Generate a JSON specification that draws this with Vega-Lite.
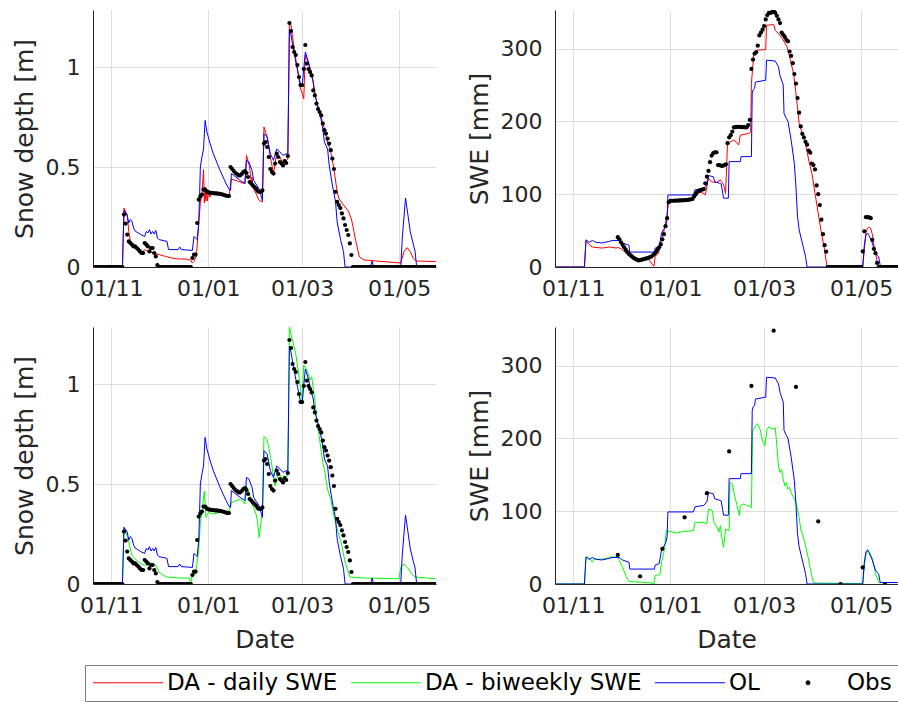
{
"$schema":"https://vega.github.io/schema/vega-lite/v6.json",
"background":"white",
"padding":{"left":12,"top":10,"right":0,"bottom":0},
"config":{
 "font":"DejaVu Sans",
 "view":{"stroke":null},
 "axis":{"labelFont":"DejaVu Sans","labelFontSize":22,"labelColor":"#262626","titleFont":"DejaVu Sans","titleFontSize":25,"titleFontWeight":"normal","titleColor":"#262626","domainColor":"#262626","domainWidth":1,"gridColor":"#dedede","gridWidth":1,"ticks":false,"tickSize":0,"labelFlush":false},
 "axisX":{"labelPadding":11,"titlePadding":11},
 "axisY":{"labelPadding":13,"titlePadding":8}
},
"datasets":{
"depth_obs":[
{"date":"2017-10-21","value":0},{"date":"2017-10-22","value":0},{"date":"2017-10-23","value":0},{"date":"2017-10-24","value":0},{"date":"2017-10-25","value":0},{"date":"2017-10-26","value":0},{"date":"2017-10-27","value":0},{"date":"2017-10-28","value":0},{"date":"2017-10-29","value":0},{"date":"2017-10-30","value":0},{"date":"2017-10-31","value":0},{"date":"2017-11-01","value":0},{"date":"2017-11-02","value":0},{"date":"2017-11-03","value":0},{"date":"2017-11-04","value":0},{"date":"2017-11-05","value":0},{"date":"2017-11-06","value":0},{"date":"2017-11-07","value":0},{"date":"2017-11-08","value":0},
{"date":"2017-11-09","value":0.262},{"date":"2017-11-10","value":0.217},{"date":"2017-11-11","value":0.162},{"date":"2017-11-12","value":0.128},{"date":"2017-11-13","value":0.12},{"date":"2017-11-14","value":0.112},{"date":"2017-11-15","value":0.103},{"date":"2017-11-16","value":0.103},{"date":"2017-11-17","value":0.095},{"date":"2017-11-18","value":0.087},{"date":"2017-11-19","value":0.078},{"date":"2017-11-20","value":0.07},{"date":"2017-11-21","value":0.07},{"date":"2017-11-22","value":0.12},{"date":"2017-11-23","value":0.112},{"date":"2017-11-24","value":0.103},{"date":"2017-11-25","value":0.078},{"date":"2017-11-26","value":0.095},{"date":"2017-11-27","value":0.095},{"date":"2017-11-28","value":0.07},{"date":"2017-11-29","value":0.053},{"date":"2017-11-30","value":0.01},
{"date":"2017-12-01","value":0},{"date":"2017-12-02","value":0},{"date":"2017-12-03","value":0},{"date":"2017-12-04","value":0},{"date":"2017-12-05","value":0},{"date":"2017-12-06","value":0},{"date":"2017-12-07","value":0},{"date":"2017-12-08","value":0},{"date":"2017-12-09","value":0},{"date":"2017-12-10","value":0},{"date":"2017-12-11","value":0},{"date":"2017-12-12","value":0},{"date":"2017-12-13","value":0},{"date":"2017-12-14","value":0},{"date":"2017-12-15","value":0},{"date":"2017-12-16","value":0},{"date":"2017-12-17","value":0},{"date":"2017-12-18","value":0},{"date":"2017-12-19","value":0},{"date":"2017-12-20","value":0},{"date":"2017-12-21","value":0},
{"date":"2017-12-22","value":0.045},{"date":"2017-12-23","value":0.062},{"date":"2017-12-24","value":0.062},{"date":"2017-12-25","value":0.22},{"date":"2017-12-26","value":0.337},{"date":"2017-12-27","value":0.353},{"date":"2017-12-28","value":0.362},{"date":"2017-12-29","value":0.387},{"date":"2017-12-30","value":0.387},{"date":"2017-12-31","value":0.378},
{"date":"2018-01-01","value":0.373},{"date":"2018-01-02","value":0.372},{"date":"2018-01-03","value":0.37},{"date":"2018-01-04","value":0.37},{"date":"2018-01-05","value":0.368},{"date":"2018-01-06","value":0.368},{"date":"2018-01-07","value":0.367},{"date":"2018-01-08","value":0.366},{"date":"2018-01-09","value":0.365},{"date":"2018-01-10","value":0.362},{"date":"2018-01-11","value":0.36},{"date":"2018-01-12","value":0.357},{"date":"2018-01-13","value":0.355},{"date":"2018-01-14","value":0.355},
{"date":"2018-01-15","value":0.5},{"date":"2018-01-16","value":0.49},{"date":"2018-01-17","value":0.48},{"date":"2018-01-18","value":0.47},{"date":"2018-01-19","value":0.465},{"date":"2018-01-20","value":0.458},{"date":"2018-01-21","value":0.458},{"date":"2018-01-22","value":0.465},{"date":"2018-01-23","value":0.475},{"date":"2018-01-24","value":0.48},{"date":"2018-01-25","value":0.47},{"date":"2018-01-26","value":0.45},{"date":"2018-01-27","value":0.425},{"date":"2018-01-28","value":0.417},{"date":"2018-01-29","value":0.408},{"date":"2018-01-30","value":0.4},{"date":"2018-01-31","value":0.392},
{"date":"2018-02-01","value":0.38},{"date":"2018-02-02","value":0.375},{"date":"2018-02-03","value":0.375},{"date":"2018-02-04","value":0.383},{"date":"2018-02-05","value":0.617},{"date":"2018-02-06","value":0.625},{"date":"2018-02-07","value":0.6},{"date":"2018-02-08","value":0.55},{"date":"2018-02-09","value":0.49},{"date":"2018-02-10","value":0.475},{"date":"2018-02-11","value":0.467},{"date":"2018-02-12","value":0.517},{"date":"2018-02-13","value":0.567},{"date":"2018-02-14","value":0.55},{"date":"2018-02-15","value":0.525},{"date":"2018-02-16","value":0.517},{"date":"2018-02-17","value":0.508},{"date":"2018-02-18","value":0.53},{"date":"2018-02-19","value":0.52},{"date":"2018-02-20","value":0.555},
{"date":"2018-02-21","value":1.22},{"date":"2018-02-22","value":1.18},{"date":"2018-02-23","value":1.1},{"date":"2018-02-24","value":1.075},{"date":"2018-02-25","value":1.06},{"date":"2018-02-26","value":1.01},{"date":"2018-02-27","value":0.95},{"date":"2018-02-28","value":0.91},
{"date":"2018-03-01","value":0.91},{"date":"2018-03-02","value":0.99},{"date":"2018-03-03","value":1.11},{"date":"2018-03-04","value":1.017},{"date":"2018-03-05","value":0.99},{"date":"2018-03-06","value":0.975},{"date":"2018-03-07","value":0.958},{"date":"2018-03-08","value":0.883},{"date":"2018-03-09","value":0.858},{"date":"2018-03-10","value":0.817},{"date":"2018-03-11","value":0.79},{"date":"2018-03-12","value":0.775},{"date":"2018-03-13","value":0.758},{"date":"2018-03-14","value":0.717},{"date":"2018-03-15","value":0.684},{"date":"2018-03-16","value":0.667},{"date":"2018-03-17","value":0.642},{"date":"2018-03-18","value":0.617},{"date":"2018-03-19","value":0.584},{"date":"2018-03-20","value":0.542},{"date":"2018-03-21","value":0.49},{"date":"2018-03-22","value":0.376},{"date":"2018-03-23","value":0.326},{"date":"2018-03-24","value":0.31},{"date":"2018-03-25","value":0.295},{"date":"2018-03-26","value":0.268},{"date":"2018-03-27","value":0.243},{"date":"2018-03-28","value":0.21},{"date":"2018-03-29","value":0.185},{"date":"2018-03-30","value":0.16},{"date":"2018-03-31","value":0.118},{"date":"2018-04-01","value":0.06},
{"date":"2018-04-02","value":0},{"date":"2018-04-03","value":0},{"date":"2018-04-04","value":0},{"date":"2018-04-05","value":0},{"date":"2018-04-06","value":0},{"date":"2018-04-07","value":0},{"date":"2018-04-08","value":0},{"date":"2018-04-09","value":0},{"date":"2018-04-10","value":0},{"date":"2018-04-11","value":0},{"date":"2018-04-12","value":0},{"date":"2018-04-13","value":0},{"date":"2018-04-14","value":0},{"date":"2018-04-15","value":0},{"date":"2018-04-16","value":0},{"date":"2018-04-17","value":0},{"date":"2018-04-18","value":0},{"date":"2018-04-19","value":0},{"date":"2018-04-20","value":0},{"date":"2018-04-21","value":0},{"date":"2018-04-22","value":0},{"date":"2018-04-23","value":0},{"date":"2018-04-24","value":0},{"date":"2018-04-25","value":0},{"date":"2018-04-26","value":0},{"date":"2018-04-27","value":0},{"date":"2018-04-28","value":0},{"date":"2018-04-29","value":0},{"date":"2018-04-30","value":0},{"date":"2018-05-01","value":0},{"date":"2018-05-02","value":0},{"date":"2018-05-03","value":0},{"date":"2018-05-04","value":0},{"date":"2018-05-05","value":0},{"date":"2018-05-06","value":0},{"date":"2018-05-07","value":0},{"date":"2018-05-08","value":0},{"date":"2018-05-09","value":0},{"date":"2018-05-10","value":0},{"date":"2018-05-11","value":0},{"date":"2018-05-12","value":0},{"date":"2018-05-13","value":0},{"date":"2018-05-14","value":0},{"date":"2018-05-15","value":0},{"date":"2018-05-16","value":0},{"date":"2018-05-17","value":0},{"date":"2018-05-18","value":0},{"date":"2018-05-19","value":0},{"date":"2018-05-20","value":0},{"date":"2018-05-21","value":0},{"date":"2018-05-22","value":0},{"date":"2018-05-23","value":0},{"date":"2018-05-24","value":0}
],
"depth_ol":[
{"date":"2017-10-20","value":0},{"date":"2017-11-08","value":0},{"date":"2017-11-09","value":0.283},{"date":"2017-11-11","value":0.26},{"date":"2017-11-12","value":0.22},{"date":"2017-11-13","value":0.237},{"date":"2017-11-14","value":0.228},{"date":"2017-11-15","value":0.195},{"date":"2017-11-16","value":0.18},{"date":"2017-11-18","value":0.17},{"date":"2017-11-20","value":0.16},{"date":"2017-11-22","value":0.153},{"date":"2017-11-23","value":0.178},{"date":"2017-11-24","value":0.17},{"date":"2017-11-25","value":0.187},{"date":"2017-11-26","value":0.165},{"date":"2017-11-27","value":0.178},{"date":"2017-11-28","value":0.165},{"date":"2017-11-29","value":0.183},{"date":"2017-11-30","value":0.145},{"date":"2017-12-01","value":0.137},{"date":"2017-12-06","value":0.128},{"date":"2017-12-07","value":0.087},{"date":"2017-12-13","value":0.087},{"date":"2017-12-14","value":0.1},{"date":"2017-12-15","value":0.087},{"date":"2017-12-22","value":0.083},{"date":"2017-12-23","value":0.153},{"date":"2017-12-24","value":0.145},{"date":"2017-12-25","value":0.137},{"date":"2017-12-26","value":0.22},{"date":"2017-12-26T12:00:00Z","value":0.353},{"date":"2017-12-27","value":0.5},{"date":"2017-12-28","value":0.55},{"date":"2017-12-29","value":0.59},{"date":"2017-12-30","value":0.733},{"date":"2017-12-31","value":0.68},{"date":"2018-01-02","value":0.62},{"date":"2018-01-04","value":0.57},{"date":"2018-01-06","value":0.53},{"date":"2018-01-08","value":0.49},{"date":"2018-01-10","value":0.455},{"date":"2018-01-12","value":0.42},{"date":"2018-01-14","value":0.39},{"date":"2018-01-15","value":0.383},{"date":"2018-01-15T12:00:00Z","value":0.467},{"date":"2018-01-17","value":0.458},{"date":"2018-01-21","value":0.433},{"date":"2018-01-24","value":0.417},{"date":"2018-01-25","value":0.533},{"date":"2018-01-26T12:00:00Z","value":0.525},{"date":"2018-01-28T12:00:00Z","value":0.483},{"date":"2018-01-29T12:00:00Z","value":0.433},{"date":"2018-02-02","value":0.39},{"date":"2018-02-04","value":0.333},{"date":"2018-02-05","value":0.667},{"date":"2018-02-07","value":0.65},{"date":"2018-02-09","value":0.567},{"date":"2018-02-11","value":0.533},{"date":"2018-02-13","value":0.59},{"date":"2018-02-15","value":0.575},{"date":"2018-02-17","value":0.558},{"date":"2018-02-19","value":0.567},{"date":"2018-02-20","value":0.56},{"date":"2018-02-21","value":1.19},{"date":"2018-02-22","value":1.16},{"date":"2018-02-23","value":1.11},{"date":"2018-02-24","value":1.07},{"date":"2018-02-25","value":1.025},{"date":"2018-02-26","value":0.99},{"date":"2018-02-27","value":0.95},{"date":"2018-02-28","value":0.91},{"date":"2018-03-01","value":0.9},{"date":"2018-03-02","value":0.99},{"date":"2018-03-03","value":1.075},{"date":"2018-03-05","value":1.025},{"date":"2018-03-06","value":0.983},{"date":"2018-03-08","value":0.925},{"date":"2018-03-09","value":0.86},{"date":"2018-03-12","value":0.775},{"date":"2018-03-14","value":0.69},{"date":"2018-03-15","value":0.625},{"date":"2018-03-17","value":0.59},{"date":"2018-03-18","value":0.51},{"date":"2018-03-20","value":0.41},{"date":"2018-03-22","value":0.326},{"date":"2018-03-23","value":0.226},{"date":"2018-03-25","value":0.143},{"date":"2018-03-27","value":0.077},{"date":"2018-03-28","value":0},{"date":"2018-04-13","value":0},{"date":"2018-04-14","value":0.03},{"date":"2018-04-15","value":0},{"date":"2018-05-02","value":0},{"date":"2018-05-03","value":0.15},{"date":"2018-05-05","value":0.345},{"date":"2018-05-06","value":0.29},{"date":"2018-05-08","value":0.176},{"date":"2018-05-10","value":0.11},{"date":"2018-05-11","value":0.08},{"date":"2018-05-12","value":0},{"date":"2018-05-24","value":0}
],
"depth_daily":[
{"date":"2017-10-20","value":0},{"date":"2017-11-08","value":0},{"date":"2017-11-09","value":0.295},{"date":"2017-11-11","value":0.26},{"date":"2017-11-12","value":0.178},{"date":"2017-11-13","value":0.128},{"date":"2017-11-14","value":0.103},{"date":"2017-11-16","value":0.095},{"date":"2017-11-18","value":0.078},{"date":"2017-11-20","value":0.067},{"date":"2017-11-22","value":0.087},{"date":"2017-11-24","value":0.078},{"date":"2017-11-26","value":0.075},{"date":"2017-11-28","value":0.07},{"date":"2017-12-01","value":0.062},{"date":"2017-12-05","value":0.053},{"date":"2017-12-09","value":0.045},{"date":"2017-12-13","value":0.04},{"date":"2017-12-18","value":0.04},{"date":"2017-12-21","value":0.033},{"date":"2017-12-22","value":0.02},{"date":"2017-12-23","value":0.028},{"date":"2017-12-24T12:00:00Z","value":0.053},{"date":"2017-12-26","value":0.22},{"date":"2017-12-27","value":0.32},{"date":"2017-12-28","value":0.37},{"date":"2017-12-29","value":0.487},{"date":"2017-12-29T12:00:00Z","value":0.32},{"date":"2017-12-30","value":0.4},{"date":"2017-12-30T12:00:00Z","value":0.33},{"date":"2017-12-31","value":0.38},{"date":"2017-12-31T12:00:00Z","value":0.33},{"date":"2018-01-01","value":0.37},{"date":"2018-01-02","value":0.35},{"date":"2018-01-03","value":0.37},{"date":"2018-01-07","value":0.362},{"date":"2018-01-11","value":0.362},{"date":"2018-01-14","value":0.353},{"date":"2018-01-15T12:00:00Z","value":0.44},{"date":"2018-01-21","value":0.425},{"date":"2018-01-24","value":0.417},{"date":"2018-01-25","value":0.558},{"date":"2018-01-27","value":0.5},{"date":"2018-01-28","value":0.42},{"date":"2018-01-28T12:00:00Z","value":0.45},{"date":"2018-01-29","value":0.4},{"date":"2018-01-31","value":0.367},{"date":"2018-02-02","value":0.333},{"date":"2018-02-04","value":0.325},{"date":"2018-02-05","value":0.7},{"date":"2018-02-07","value":0.65},{"date":"2018-02-09","value":0.55},{"date":"2018-02-11","value":0.467},{"date":"2018-02-13","value":0.567},{"date":"2018-02-15","value":0.55},{"date":"2018-02-17","value":0.517},{"date":"2018-02-19","value":0.533},{"date":"2018-02-20","value":0.54},{"date":"2018-02-21","value":1.225},{"date":"2018-02-22","value":1.21},{"date":"2018-02-24","value":1.09},{"date":"2018-02-26","value":0.99},{"date":"2018-02-28","value":0.89},{"date":"2018-03-01","value":0.87},{"date":"2018-03-02","value":0.84},{"date":"2018-03-03","value":1.06},{"date":"2018-03-05","value":1.02},{"date":"2018-03-07","value":0.97},{"date":"2018-03-09","value":0.87},{"date":"2018-03-11","value":0.79},{"date":"2018-03-14","value":0.725},{"date":"2018-03-17","value":0.625},{"date":"2018-03-19","value":0.575},{"date":"2018-03-21","value":0.49},{"date":"2018-03-23","value":0.376},{"date":"2018-03-24","value":0.343},{"date":"2018-03-27","value":0.31},{"date":"2018-03-30","value":0.28},{"date":"2018-04-01","value":0.24},{"date":"2018-04-02","value":0.2},{"date":"2018-04-04","value":0.12},{"date":"2018-04-06","value":0.05},{"date":"2018-04-09","value":0.035},{"date":"2018-05-02","value":0.02},{"date":"2018-05-04","value":0.076},{"date":"2018-05-06","value":0.097},{"date":"2018-05-08","value":0.076},{"date":"2018-05-10","value":0.043},{"date":"2018-05-12","value":0.03},{"date":"2018-05-24","value":0.027}
],
"depth_biweekly":[
{"date":"2017-10-20","value":0},{"date":"2017-11-08","value":0},{"date":"2017-11-09","value":0.283},{"date":"2017-11-11","value":0.24},{"date":"2017-11-12","value":0.21},{"date":"2017-11-14","value":0.142},{"date":"2017-11-17","value":0.118},{"date":"2017-11-20","value":0.1},{"date":"2017-11-23","value":0.093},{"date":"2017-11-24","value":0.11},{"date":"2017-11-27","value":0.1},{"date":"2017-11-29","value":0.093},{"date":"2017-12-01","value":0.06},{"date":"2017-12-04","value":0.043},{"date":"2017-12-06","value":0.035},{"date":"2017-12-14","value":0.03},{"date":"2017-12-20","value":0.03},{"date":"2017-12-21","value":0.002},{"date":"2017-12-22","value":0.043},{"date":"2017-12-24","value":0.048},{"date":"2017-12-26","value":0.175},{"date":"2017-12-27","value":0.31},{"date":"2017-12-28","value":0.357},{"date":"2017-12-29T12:00:00Z","value":0.465},{"date":"2017-12-30T12:00:00Z","value":0.333},{"date":"2018-01-01","value":0.357},{"date":"2018-01-04","value":0.35},{"date":"2018-01-08","value":0.357},{"date":"2018-01-14","value":0.366},{"date":"2018-01-15T12:00:00Z","value":0.407},{"date":"2018-01-21","value":0.424},{"date":"2018-01-24","value":0.4},{"date":"2018-01-25","value":0.49},{"date":"2018-01-27","value":0.449},{"date":"2018-01-29","value":0.39},{"date":"2018-01-31","value":0.35},{"date":"2018-02-01","value":0.308},{"date":"2018-02-02","value":0.233},{"date":"2018-02-03","value":0.3},{"date":"2018-02-04","value":0.357},{"date":"2018-02-05","value":0.738},{"date":"2018-02-07","value":0.722},{"date":"2018-02-09","value":0.64},{"date":"2018-02-11","value":0.54},{"date":"2018-02-12","value":0.49},{"date":"2018-02-14","value":0.556},{"date":"2018-02-15","value":0.545},{"date":"2018-02-17","value":0.523},{"date":"2018-02-19","value":0.54},{"date":"2018-02-20","value":0.54},{"date":"2018-02-21","value":1.285},{"date":"2018-02-22","value":1.25},{"date":"2018-02-25","value":1.15},{"date":"2018-02-27","value":1.036},{"date":"2018-03-01","value":0.92},{"date":"2018-03-02","value":1.094},{"date":"2018-03-04","value":1.07},{"date":"2018-03-06","value":1.02},{"date":"2018-03-07","value":1.036},{"date":"2018-03-09","value":0.92},{"date":"2018-03-10","value":0.838},{"date":"2018-03-12","value":0.722},{"date":"2018-03-14","value":0.606},{"date":"2018-03-15","value":0.573},{"date":"2018-03-17","value":0.473},{"date":"2018-03-19","value":0.424},{"date":"2018-03-21","value":0.341},{"date":"2018-03-23","value":0.275},{"date":"2018-03-26","value":0.192},{"date":"2018-03-28","value":0.109},{"date":"2018-03-30","value":0.06},{"date":"2018-03-31","value":0.035},{"date":"2018-04-10","value":0.03},{"date":"2018-05-01","value":0.026},{"date":"2018-05-02","value":0.084},{"date":"2018-05-04","value":0.1},{"date":"2018-05-06","value":0.084},{"date":"2018-05-09","value":0.05},{"date":"2018-05-11","value":0.035},{"date":"2018-05-24","value":0.026}
],
"swe_obs_daily":[
{"date":"2017-11-29","value":41},{"date":"2017-11-30","value":38},{"date":"2017-12-01","value":34},{"date":"2017-12-02","value":30.5},{"date":"2017-12-03","value":27},{"date":"2017-12-04","value":23.5},{"date":"2017-12-05","value":20.5},{"date":"2017-12-06","value":18},{"date":"2017-12-07","value":16},{"date":"2017-12-08","value":14.2},{"date":"2017-12-09","value":12.5},{"date":"2017-12-10","value":11},{"date":"2017-12-11","value":10},{"date":"2017-12-12","value":9},{"date":"2017-12-13","value":9.5},{"date":"2017-12-14","value":10},{"date":"2017-12-15","value":10.5},{"date":"2017-12-16","value":11},{"date":"2017-12-17","value":11.8},{"date":"2017-12-18","value":12.6},{"date":"2017-12-19","value":13.3},{"date":"2017-12-20","value":14.3},{"date":"2017-12-21","value":16},{"date":"2017-12-22","value":18},{"date":"2017-12-23","value":20.5},{"date":"2017-12-24","value":24},{"date":"2017-12-25","value":27},{"date":"2017-12-26","value":31},{"date":"2017-12-27","value":38},{"date":"2017-12-28","value":45},{"date":"2017-12-29","value":56},{"date":"2017-12-30","value":67},{"date":"2017-12-31","value":89},
{"date":"2018-01-01","value":91},{"date":"2018-01-02","value":91},{"date":"2018-01-03","value":91},{"date":"2018-01-04","value":91.2},{"date":"2018-01-05","value":91.3},{"date":"2018-01-06","value":91.3},{"date":"2018-01-07","value":91.5},{"date":"2018-01-08","value":91.5},{"date":"2018-01-09","value":91.6},{"date":"2018-01-10","value":91.8},{"date":"2018-01-11","value":92},{"date":"2018-01-12","value":92.3},{"date":"2018-01-13","value":92.6},{"date":"2018-01-14","value":93},{"date":"2018-01-15","value":93.5},{"date":"2018-01-16","value":97},{"date":"2018-01-17","value":100},{"date":"2018-01-18","value":103},{"date":"2018-01-19","value":104.6},{"date":"2018-01-20","value":105.5},{"date":"2018-01-21","value":106.3},{"date":"2018-01-22","value":107},{"date":"2018-01-23","value":115},{"date":"2018-01-24","value":124},{"date":"2018-01-25","value":132},{"date":"2018-01-26","value":144},{"date":"2018-01-27","value":153},{"date":"2018-01-28","value":156.5},{"date":"2018-01-29","value":157.5},{"date":"2018-01-30","value":157.5},{"date":"2018-01-31","value":140},
{"date":"2018-02-01","value":140},{"date":"2018-02-02","value":139},{"date":"2018-02-03","value":139},{"date":"2018-02-04","value":140},{"date":"2018-02-05","value":141},{"date":"2018-02-06","value":170},{"date":"2018-02-07","value":178},{"date":"2018-02-08","value":181},{"date":"2018-02-09","value":186},{"date":"2018-02-10","value":191.8},{"date":"2018-02-11","value":192},{"date":"2018-02-12","value":192.5},{"date":"2018-02-13","value":192.5},{"date":"2018-02-14","value":192.5},{"date":"2018-02-15","value":192},{"date":"2018-02-16","value":192},{"date":"2018-02-17","value":191.8},{"date":"2018-02-18","value":191.8},{"date":"2018-02-19","value":195},{"date":"2018-02-20","value":202},{"date":"2018-02-21","value":272},{"date":"2018-02-22","value":285},{"date":"2018-02-23","value":293},{"date":"2018-02-24","value":295},{"date":"2018-02-25","value":304},{"date":"2018-02-26","value":318},{"date":"2018-02-27","value":322},{"date":"2018-02-28","value":326},
{"date":"2018-03-01","value":331},{"date":"2018-03-02","value":340},{"date":"2018-03-03","value":346},{"date":"2018-03-04","value":349},{"date":"2018-03-05","value":349},{"date":"2018-03-06","value":350},{"date":"2018-03-07","value":352},{"date":"2018-03-08","value":349},{"date":"2018-03-09","value":345},{"date":"2018-03-10","value":340},{"date":"2018-03-11","value":335},{"date":"2018-03-12","value":322},{"date":"2018-03-13","value":319},{"date":"2018-03-14","value":316},{"date":"2018-03-15","value":312},{"date":"2018-03-16","value":310},{"date":"2018-03-17","value":296},{"date":"2018-03-18","value":290},{"date":"2018-03-19","value":280},{"date":"2018-03-20","value":265},{"date":"2018-03-21","value":252},{"date":"2018-03-22","value":232},{"date":"2018-03-23","value":212},{"date":"2018-03-24","value":193},{"date":"2018-03-25","value":183},{"date":"2018-03-26","value":178},{"date":"2018-03-27","value":172},{"date":"2018-03-28","value":168},{"date":"2018-03-29","value":160},{"date":"2018-03-30","value":157},{"date":"2018-03-31","value":142},{"date":"2018-04-01","value":140},{"date":"2018-04-02","value":134},{"date":"2018-04-03","value":112},{"date":"2018-04-04","value":100},{"date":"2018-04-05","value":85},{"date":"2018-04-06","value":65},{"date":"2018-04-07","value":45},{"date":"2018-04-08","value":30},{"date":"2018-04-09","value":21},
{"date":"2018-04-10","value":0},{"date":"2018-04-11","value":0},{"date":"2018-04-12","value":0},{"date":"2018-04-13","value":0},{"date":"2018-04-14","value":0},{"date":"2018-04-15","value":0},{"date":"2018-04-16","value":0},{"date":"2018-04-17","value":0},{"date":"2018-04-18","value":0},{"date":"2018-04-19","value":0},{"date":"2018-04-20","value":0},{"date":"2018-04-21","value":0},{"date":"2018-04-22","value":0},{"date":"2018-04-23","value":0},{"date":"2018-04-24","value":0},{"date":"2018-04-25","value":0},{"date":"2018-04-26","value":0},{"date":"2018-04-27","value":0},{"date":"2018-04-28","value":0},{"date":"2018-04-29","value":0},{"date":"2018-04-30","value":0},{"date":"2018-05-01","value":0},
{"date":"2018-05-02","value":21.5},{"date":"2018-05-03","value":49},{"date":"2018-05-04","value":68.5},{"date":"2018-05-05","value":68.5},{"date":"2018-05-06","value":68},{"date":"2018-05-07","value":67},{"date":"2018-05-08","value":37.4},{"date":"2018-05-09","value":25},{"date":"2018-05-10","value":19},{"date":"2018-05-11","value":5.5},
{"date":"2018-05-12","value":0},{"date":"2018-05-13","value":0},{"date":"2018-05-14","value":0},{"date":"2018-05-15","value":0},{"date":"2018-05-16","value":0},{"date":"2018-05-17","value":0},{"date":"2018-05-18","value":0},{"date":"2018-05-19","value":0},{"date":"2018-05-20","value":0},{"date":"2018-05-21","value":0},{"date":"2018-05-22","value":0},{"date":"2018-05-23","value":0},{"date":"2018-05-24","value":0}
],
"swe_obs_biweekly":[
{"date":"2017-11-29","value":40},{"date":"2017-12-13","value":10.5},{"date":"2017-12-27","value":48.3},{"date":"2018-01-10","value":91.6},{"date":"2018-01-24","value":124.8},{"date":"2018-02-07","value":182},{"date":"2018-02-21","value":272},{"date":"2018-03-07","value":348},{"date":"2018-03-21","value":270.6},{"date":"2018-04-04","value":86},{"date":"2018-04-18","value":0},{"date":"2018-05-02","value":22.8},{"date":"2018-05-16","value":0}
],
"swe_ol":[
{"date":"2017-10-20","value":0},{"date":"2017-11-08","value":0},{"date":"2017-11-09","value":37.4},{"date":"2017-11-11","value":33.8},{"date":"2017-11-13","value":36.5},{"date":"2017-11-15","value":34},{"date":"2017-11-19","value":33},{"date":"2017-11-23","value":35},{"date":"2017-11-26","value":36.5},{"date":"2017-11-30","value":36.5},{"date":"2017-12-02","value":33},{"date":"2017-12-05","value":30.6},{"date":"2017-12-06","value":30},{"date":"2017-12-06T12:00:00Z","value":20.5},{"date":"2017-12-22","value":20.5},{"date":"2017-12-22T12:00:00Z","value":26},{"date":"2017-12-25","value":28},{"date":"2017-12-26T12:00:00Z","value":46.6},{"date":"2017-12-29","value":55.7},{"date":"2017-12-30","value":65},{"date":"2017-12-30T12:00:00Z","value":99},{"date":"2018-01-15T12:00:00Z","value":99},{"date":"2018-01-16T12:00:00Z","value":106},{"date":"2018-01-22","value":108},{"date":"2018-01-24","value":112.8},{"date":"2018-01-25","value":125.6},{"date":"2018-01-28","value":124},{"date":"2018-01-29","value":117},{"date":"2018-02-01","value":115},{"date":"2018-02-02","value":114},{"date":"2018-02-03","value":101},{"date":"2018-02-03T12:00:00Z","value":94.5},{"date":"2018-02-06T12:00:00Z","value":94.5},{"date":"2018-02-07","value":144.7},{"date":"2018-02-14","value":144.7},{"date":"2018-02-14T12:00:00Z","value":151.6},{"date":"2018-02-21","value":151.6},{"date":"2018-02-21T12:00:00Z","value":238},{"date":"2018-02-22","value":243},{"date":"2018-02-23","value":245},{"date":"2018-02-23T12:00:00Z","value":254},{"date":"2018-03-02","value":256.6},{"date":"2018-03-02T12:00:00Z","value":284},{"date":"2018-03-08","value":283},{"date":"2018-03-10","value":275},{"date":"2018-03-11","value":263},{"date":"2018-03-13","value":250},{"date":"2018-03-13T12:00:00Z","value":211},{"date":"2018-03-15","value":204},{"date":"2018-03-16","value":200},{"date":"2018-03-18","value":174},{"date":"2018-03-20","value":142},{"date":"2018-03-21","value":110},{"date":"2018-03-22","value":69},{"date":"2018-03-23","value":51},{"date":"2018-03-25","value":33},{"date":"2018-03-27","value":14.6},{"date":"2018-03-28","value":0},{"date":"2018-05-02","value":0},{"date":"2018-05-03","value":30},{"date":"2018-05-04","value":44},{"date":"2018-05-05","value":46.6},{"date":"2018-05-06","value":43},{"date":"2018-05-08","value":33},{"date":"2018-05-10","value":19},{"date":"2018-05-11","value":16},{"date":"2018-05-12","value":14},{"date":"2018-05-13","value":2},{"date":"2018-05-24","value":2}
],
"swe_daily":[
{"date":"2017-10-20","value":0},{"date":"2017-11-08","value":0},{"date":"2017-11-09","value":36.5},{"date":"2017-11-11","value":30.6},{"date":"2017-11-13","value":27.4},{"date":"2017-11-19","value":26},{"date":"2017-11-24","value":27.4},{"date":"2017-11-28","value":26},{"date":"2017-11-29","value":27},{"date":"2017-12-01","value":25},{"date":"2017-12-03","value":21.5},{"date":"2017-12-06","value":15},{"date":"2017-12-10","value":10},{"date":"2017-12-15","value":10},{"date":"2017-12-18","value":12.3},{"date":"2017-12-20","value":5.5},{"date":"2017-12-21T18:00:00Z","value":1},{"date":"2017-12-22T12:00:00Z","value":14.6},{"date":"2017-12-24T12:00:00Z","value":19},{"date":"2017-12-25T12:00:00Z","value":28},{"date":"2017-12-27T18:00:00Z","value":46.6},{"date":"2017-12-29T18:00:00Z","value":69},{"date":"2017-12-31","value":90},{"date":"2018-01-09","value":90},{"date":"2018-01-15T12:00:00Z","value":92},{"date":"2018-01-16T12:00:00Z","value":103.6},{"date":"2018-01-21","value":102},{"date":"2018-01-23","value":99},{"date":"2018-01-25","value":122},{"date":"2018-01-27","value":117},{"date":"2018-01-30","value":116},{"date":"2018-02-01T12:00:00Z","value":119.6},{"date":"2018-02-03T12:00:00Z","value":112.8},{"date":"2018-02-04T18:00:00Z","value":101},{"date":"2018-02-06","value":170},{"date":"2018-02-10","value":174.4},{"date":"2018-02-12","value":170},{"date":"2018-02-13","value":167.6},{"date":"2018-02-14","value":181},{"date":"2018-02-19T12:00:00Z","value":183.6},{"date":"2018-02-20T12:00:00Z","value":185},{"date":"2018-02-21","value":252},{"date":"2018-02-22T12:00:00Z","value":293},{"date":"2018-02-24T18:00:00Z","value":297.7},{"date":"2018-03-02","value":298.6},{"date":"2018-03-02T12:00:00Z","value":332},{"date":"2018-03-07","value":333},{"date":"2018-03-08","value":325},{"date":"2018-03-10","value":320.5},{"date":"2018-03-12T12:00:00Z","value":313.7},{"date":"2018-03-15T12:00:00Z","value":302},{"date":"2018-03-17T12:00:00Z","value":284},{"date":"2018-03-19T12:00:00Z","value":265.8},{"date":"2018-03-21T12:00:00Z","value":229},{"date":"2018-03-23","value":197},{"date":"2018-03-25","value":183.6},{"date":"2018-03-27","value":170},{"date":"2018-03-29","value":147},{"date":"2018-03-31","value":128.8},{"date":"2018-04-02","value":101},{"date":"2018-04-04","value":74},{"date":"2018-04-06","value":46.6},{"date":"2018-04-08","value":23.7},{"date":"2018-04-09T12:00:00Z","value":0},{"date":"2018-05-02","value":0},{"date":"2018-05-03","value":25},{"date":"2018-05-04","value":47},{"date":"2018-05-05","value":53},{"date":"2018-05-06","value":54.8},{"date":"2018-05-07","value":53},{"date":"2018-05-08","value":45},{"date":"2018-05-09","value":30},{"date":"2018-05-10","value":20},{"date":"2018-05-11","value":8},{"date":"2018-05-12","value":0},{"date":"2018-05-24","value":0}
],
"swe_biweekly":[
{"date":"2017-10-20","value":0},{"date":"2017-11-08","value":0},{"date":"2017-11-09","value":37},{"date":"2017-11-11","value":35.5},{"date":"2017-11-13","value":30},{"date":"2017-11-14","value":35},{"date":"2017-11-17","value":33.7},{"date":"2017-11-22","value":35},{"date":"2017-11-24","value":37},{"date":"2017-11-29","value":37},{"date":"2017-11-30","value":32},{"date":"2017-12-02","value":23},{"date":"2017-12-04","value":11.4},{"date":"2017-12-06","value":3.6},{"date":"2017-12-11","value":2.7},{"date":"2017-12-19","value":1.8},{"date":"2017-12-21T18:00:00Z","value":0.5},{"date":"2017-12-22T12:00:00Z","value":11.8},{"date":"2017-12-25T12:00:00Z","value":12.8},{"date":"2017-12-26T12:00:00Z","value":30},{"date":"2017-12-28","value":43.7},{"date":"2017-12-29T12:00:00Z","value":73.3},{"date":"2018-01-01","value":72},{"date":"2018-01-05","value":70},{"date":"2018-01-09","value":72},{"date":"2018-01-15T12:00:00Z","value":73.3},{"date":"2018-01-16T12:00:00Z","value":84.7},{"date":"2018-01-22","value":84.7},{"date":"2018-01-24","value":82.5},{"date":"2018-01-25","value":103},{"date":"2018-01-27T12:00:00Z","value":100.7},{"date":"2018-01-28T12:00:00Z","value":84.7},{"date":"2018-01-30T12:00:00Z","value":78},{"date":"2018-01-31T12:00:00Z","value":71},{"date":"2018-02-01T12:00:00Z","value":80},{"date":"2018-02-02T12:00:00Z","value":62},{"date":"2018-02-03T12:00:00Z","value":50.6},{"date":"2018-02-04T18:00:00Z","value":75.6},{"date":"2018-02-07","value":73},{"date":"2018-02-07T12:00:00Z","value":139.4},{"date":"2018-02-09","value":137},{"date":"2018-02-10T12:00:00Z","value":121},{"date":"2018-02-12","value":107.5},{"date":"2018-02-13T12:00:00Z","value":93.8},{"date":"2018-02-14","value":107.5},{"date":"2018-02-16","value":110},{"date":"2018-02-18","value":108},{"date":"2018-02-21","value":105},{"date":"2018-02-21T18:00:00Z","value":210},{"date":"2018-02-23T12:00:00Z","value":216.9},{"date":"2018-02-24T18:00:00Z","value":220.5},{"date":"2018-02-26T12:00:00Z","value":212},{"date":"2018-02-28","value":196},{"date":"2018-03-01T12:00:00Z","value":189.5},{"date":"2018-03-02T18:00:00Z","value":212},{"date":"2018-03-04","value":216},{"date":"2018-03-06","value":213},{"date":"2018-03-08","value":214.6},{"date":"2018-03-09","value":189.5},{"date":"2018-03-10","value":162},{"date":"2018-03-11","value":153},{"date":"2018-03-12","value":157.5},{"date":"2018-03-13","value":144},{"date":"2018-03-14","value":134.9},{"date":"2018-03-15","value":139.4},{"date":"2018-03-16","value":130},{"date":"2018-03-17","value":132.6},{"date":"2018-03-18","value":125.7},{"date":"2018-03-21","value":112},{"date":"2018-03-23","value":91.6},{"date":"2018-03-24","value":75.6},{"date":"2018-03-26","value":62},{"date":"2018-03-28","value":43.7},{"date":"2018-03-30","value":21},{"date":"2018-04-01","value":1.4},{"date":"2018-05-02","value":0.5},{"date":"2018-05-03","value":25},{"date":"2018-05-04","value":40},{"date":"2018-05-05","value":47},{"date":"2018-05-06","value":45},{"date":"2018-05-08","value":35},{"date":"2018-05-10","value":15},{"date":"2018-05-12","value":2},{"date":"2018-05-24","value":2}
]
},
"bounds":"flush",
"columns":2,
"spacing":{"row":60,"column":119},
"concat":[
{
 "width":343,"height":257,
 "encoding":{
  "x":{"field":"date","type":"temporal","scale":{"type":"utc","domain":[{"year":2017,"month":10,"date":20,"hours":12,"utc":true},{"year":2018,"month":5,"date":24,"hours":4,"utc":true}]},"axis":{"title":null,"format":"%d/%m","values":[{"year":2017,"month":11,"date":1,"utc":true},{"year":2018,"month":1,"date":1,"utc":true},{"year":2018,"month":3,"date":1,"utc":true},{"year":2018,"month":5,"date":1,"utc":true}]}},
  "y":{"field":"value","type":"quantitative","scale":{"domain":[0,1.285],"nice":false},"axis":{"title":"Snow depth [m]","values":[0,0.5,1],"format":"~g"}}
 },
 "layer":[
  {"data":{"name":"depth_daily"},"mark":{"type":"line","strokeWidth":1,"clip":true},"encoding":{"color":{"datum":"DA - daily SWE","type":"nominal","scale":{"domain":["DA - daily SWE","DA - biweekly SWE","OL","Obs"],"range":["#ff0000","#00ff00","#0000ff","#000000"]},
   "legend":{"orient":"none","legendX":-8,"legendY":655,"direction":"horizontal","title":null,"symbolType":"M-7,0H7","symbolSize":100,"symbolStrokeWidth":1,"labelFont":"DejaVu Sans","labelFontSize":23,"labelColor":"#000000","labelOffset":5,"columnPadding":11,"padding":6,"strokeColor":"#7f7f7f","fillColor":"#ffffff","labelLimit":400,
    "encode":{
     "symbols":{"update":{"x":{"value":37},"shape":{"signal":"datum.value === 'Obs' ? 'circle' : 'M-7,0H7'"},"size":{"signal":"datum.value === 'Obs' ? 16 : 100"},"fill":{"signal":"datum.value === 'Obs' ? '#000000' : 'transparent'"},"stroke":{"signal":"datum.value === 'Obs' ? 'transparent' : (datum.value === 'DA - daily SWE' ? '#ff0000' : (datum.value === 'OL' ? '#0000ff' : '#00ff00'))"},"strokeWidth":{"value":1},"opacity":{"value":1}}},
     "labels":{"update":{"x":{"value":76}}}
    }}}}},
  {"data":{"name":"depth_ol"},"mark":{"type":"line","strokeWidth":1,"clip":true},"encoding":{"color":{"datum":"OL","type":"nominal"}}},
  {"data":{"name":"depth_obs"},"mark":{"type":"circle","size":18,"opacity":1,"clip":true},"encoding":{"color":{"datum":"Obs","type":"nominal"}}}
 ]
},
{
 "width":343,"height":257,
 "encoding":{
  "x":{"field":"date","type":"temporal","scale":{"type":"utc","domain":[{"year":2017,"month":10,"date":20,"hours":12,"utc":true},{"year":2018,"month":5,"date":24,"hours":4,"utc":true}]},"axis":{"title":null,"format":"%d/%m","values":[{"year":2017,"month":11,"date":1,"utc":true},{"year":2018,"month":1,"date":1,"utc":true},{"year":2018,"month":3,"date":1,"utc":true},{"year":2018,"month":5,"date":1,"utc":true}]}},
  "y":{"field":"value","type":"quantitative","scale":{"domain":[0,353],"nice":false},"axis":{"title":"SWE [mm]","values":[0,100,200,300],"format":"d"}}
 },
 "layer":[
  {"data":{"name":"swe_daily"},"mark":{"type":"line","strokeWidth":1,"clip":true},"encoding":{"color":{"datum":"DA - daily SWE","type":"nominal"}}},
  {"data":{"name":"swe_ol"},"mark":{"type":"line","strokeWidth":1,"clip":true},"encoding":{"color":{"datum":"OL","type":"nominal"}}},
  {"data":{"name":"swe_obs_daily"},"mark":{"type":"circle","size":18,"opacity":1,"clip":true},"encoding":{"color":{"datum":"Obs","type":"nominal"}}}
 ]
},
{
 "width":343,"height":257,
 "encoding":{
  "x":{"field":"date","type":"temporal","scale":{"type":"utc","domain":[{"year":2017,"month":10,"date":20,"hours":12,"utc":true},{"year":2018,"month":5,"date":24,"hours":4,"utc":true}]},"axis":{"title":"Date","format":"%d/%m","values":[{"year":2017,"month":11,"date":1,"utc":true},{"year":2018,"month":1,"date":1,"utc":true},{"year":2018,"month":3,"date":1,"utc":true},{"year":2018,"month":5,"date":1,"utc":true}]}},
  "y":{"field":"value","type":"quantitative","scale":{"domain":[0,1.285],"nice":false},"axis":{"title":"Snow depth [m]","values":[0,0.5,1],"format":"~g"}}
 },
 "layer":[
  {"data":{"name":"depth_biweekly"},"mark":{"type":"line","strokeWidth":1,"clip":true},"encoding":{"color":{"datum":"DA - biweekly SWE","type":"nominal"}}},
  {"data":{"name":"depth_ol"},"mark":{"type":"line","strokeWidth":1,"clip":true},"encoding":{"color":{"datum":"OL","type":"nominal"}}},
  {"data":{"name":"depth_obs"},"mark":{"type":"circle","size":18,"opacity":1,"clip":true},"encoding":{"color":{"datum":"Obs","type":"nominal"}}}
 ]
},
{
 "width":343,"height":257,
 "encoding":{
  "x":{"field":"date","type":"temporal","scale":{"type":"utc","domain":[{"year":2017,"month":10,"date":20,"hours":12,"utc":true},{"year":2018,"month":5,"date":24,"hours":4,"utc":true}]},"axis":{"title":"Date","format":"%d/%m","values":[{"year":2017,"month":11,"date":1,"utc":true},{"year":2018,"month":1,"date":1,"utc":true},{"year":2018,"month":3,"date":1,"utc":true},{"year":2018,"month":5,"date":1,"utc":true}]}},
  "y":{"field":"value","type":"quantitative","scale":{"domain":[0,353],"nice":false},"axis":{"title":"SWE [mm]","values":[0,100,200,300],"format":"d"}}
 },
 "layer":[
  {"data":{"name":"swe_biweekly"},"mark":{"type":"line","strokeWidth":1,"clip":true},"encoding":{"color":{"datum":"DA - biweekly SWE","type":"nominal"}}},
  {"data":{"name":"swe_ol"},"mark":{"type":"line","strokeWidth":1,"clip":true},"encoding":{"color":{"datum":"OL","type":"nominal"}}},
  {"data":{"name":"swe_obs_biweekly"},"mark":{"type":"circle","size":18,"opacity":1,"clip":true},"encoding":{"color":{"datum":"Obs","type":"nominal"}}}
 ]
}
]
}
